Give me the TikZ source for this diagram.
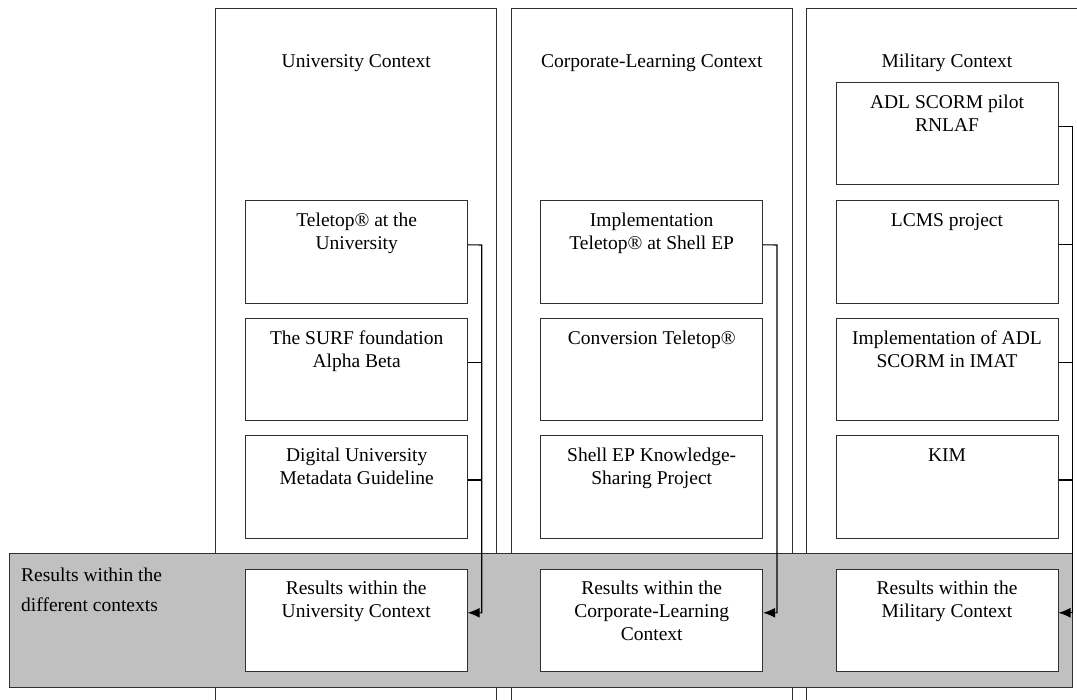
\documentclass[tikz,border=0pt]{standalone}
\usepackage{fontspec}
\setmainfont{Liberation Serif}
\usetikzlibrary{arrows.meta}
\definecolor{bandgray}{HTML}{C0C0C0}
\definecolor{edge}{HTML}{303030}
\tikzset{
  col/.style={draw=edge, line width=1pt},
  band/.style={draw=edge, fill=bandgray, line width=1pt},
  box/.style={draw=edge, fill=white, line width=1pt, minimum width=222pt, minimum height=102.5pt, inner sep=0pt},
  boxtext/.style={anchor=north, align=center, inner sep=0pt, font=\fontsize{19.5}{23}\selectfont},
  title/.style={align=center, inner sep=0pt, font=\fontsize{19.5}{23}\selectfont},
  conn/.style={draw=black, line width=1.1pt},
  arr/.style={conn, -{Latex[length=12pt,width=10pt]}}
}
\begin{document}
\begin{tikzpicture}[x=1pt,y=-1pt]
\useasboundingbox (0,0) rectangle (1077,700);
\begin{scope}
\clip (0,0) rectangle (1077,700);
% columns
\draw[col] (215.7,9) rectangle (496.7,720);
\draw[col] (511,9) rectangle (792.7,720);
\draw[col] (806,9) rectangle (1088,720);
\end{scope}
% titles
\node[title] (t1) at (356.2,63) {University Context};
\node[title] (t2) at (651.8,63) {Corporate-Learning Context};
\node[title] (t3) at (947,63) {Military Context};
% band
\draw[band] (9.3,553) rectangle (1072.7,687);
\node[title, anchor=west, font=\fontsize{19.5}{30}\selectfont, align=left] (bt) at (21,590) {Results within the\\different contexts};
% University boxes
\node[box] (u1) at (356.7,251.8) {};
\node[box] (u2) at (356.7,369.5) {};
\node[box] (u3) at (356.7,487) {};
\node[box] (ur) at (356.2,620.3) {};
% Corporate boxes
\node[box] (c1) at (651.7,251.8) {};
\node[box] (c2) at (651.7,369.5) {};
\node[box] (c3) at (651.7,487) {};
\node[box] (cr) at (651.7,620.3) {};
% Military boxes
\node[box] (m0) at (947,133.5) {};
\node[box] (m1) at (947,251.8) {};
\node[box] (m2) at (947,369.5) {};
\node[box] (m3) at (947,487) {};
\node[box] (mr) at (947,620.3) {};
% texts
\node[boxtext] (u1t) at ([yshift=-13pt]u1.north) {Teletop® at the\\University};
\node[boxtext] (u2t) at ([yshift=-13pt]u2.north) {The SURF foundation\\Alpha Beta};
\node[boxtext] (u3t) at ([yshift=-13pt]u3.north) {Digital University\\Metadata Guideline};
\node[boxtext] (urt) at ([yshift=-12pt]ur.north) {Results within the\\University Context};
\node[boxtext] (c1t) at ([yshift=-13pt]c1.north) {Implementation\\Teletop® at Shell EP};
\node[boxtext] (c2t) at ([yshift=-13pt]c2.north) {Conversion Teletop®};
\node[boxtext] (c3t) at ([yshift=-13pt]c3.north) {Shell EP Knowledge-\\Sharing Project};
\node[boxtext] (crt) at ([yshift=-12pt]cr.north) {Results within the\\Corporate-Learning\\Context};
\node[boxtext] (m0t) at ([yshift=-13pt]m0.north) {ADL SCORM pilot\\RNLAF};
\node[boxtext] (m1t) at ([yshift=-13pt]m1.north) {LCMS project};
\node[boxtext] (m2t) at ([yshift=-13pt]m2.north) {Implementation of ADL\\SCORM in IMAT};
\node[boxtext] (m3t) at ([yshift=-13pt]m3.north) {KIM};
\node[boxtext] (mrt) at ([yshift=-12pt]mr.north) {Results within the\\Military Context};
% rails
\coordinate (r1a) at (481.7,245);
\coordinate (r1b) at (481.7,612.8);
\coordinate (r2a) at (777,245);
\coordinate (r2b) at (777,612.8);
\coordinate (r3a) at (1072.7,126.5);
\coordinate (r3b) at (1072.7,612.8);
% connectors
\draw[arr] ([yshift=7pt]u1.east) -- (r1a) -- (r1b) -- ([yshift=7.5pt]ur.east);
\draw[conn] ([yshift=7pt]u2.east) -- ++(14pt,0);
\draw[conn] ([yshift=7pt]u3.east) -- ++(14pt,0);
\draw[arr] ([yshift=7pt]c1.east) -- (r2a) -- (r2b) -- ([yshift=7.5pt]cr.east);
\draw[arr] ([yshift=7pt]m0.east) -- (r3a) -- (r3b) -- ([yshift=7.5pt]mr.east);
\draw[conn] ([yshift=7pt]m1.east) -- ++(14.7pt,0);
\draw[conn] ([yshift=7pt]m2.east) -- ++(14.7pt,0);
\draw[conn] ([yshift=7pt]m3.east) -- ++(14.7pt,0);
\end{tikzpicture}
\end{document}
